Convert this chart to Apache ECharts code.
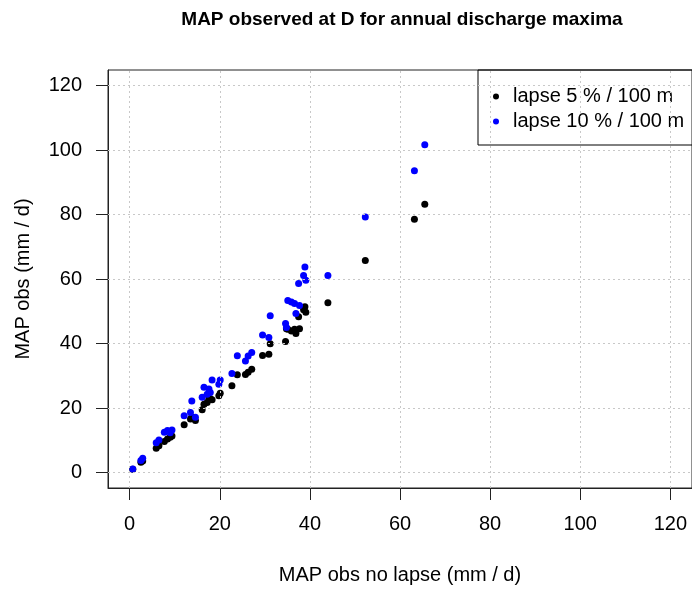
<!DOCTYPE html>
<html>
<head>
<meta charset="utf-8">
<script src="https://cdn.jsdelivr.net/npm/echarts@6/dist/echarts.min.js"></script>
<style>html,body{margin:0;padding:0;background:#fff}#c{width:692px;height:590px}</style>
</head>
<body>
<div id="c"></div>
<script>
// MAP obs without lapse (x), with 5 %/100 m lapse and 10 %/100 m lapse (y)
var xNoLapse = [0.7, 2.5, 2.9, 5.9, 6.5, 7.7, 8.4, 9.0, 9.4, 12.1, 13.5, 13.8, 14.6, 16.1, 16.5, 17.2, 17.6, 17.9, 18.3, 19.8, 20.1, 22.7, 23.9, 25.7, 26.3, 27.1, 29.5, 30.9, 31.2, 34.6, 34.8, 35.1, 35.9, 36.6, 36.9, 37.5, 37.7, 38.6, 38.9, 39.1, 44.0, 52.3, 63.2, 65.5];
var yLapse5 = [1.0, 3.2, 3.6, 7.5, 8.3, 9.6, 10.4, 10.9, 11.3, 14.8, 16.6, 17.2, 16.1, 19.5, 21.2, 21.7, 22.8, 22.9, 22.6, 23.8, 24.6, 26.9, 30.3, 30.4, 31.1, 32.0, 36.3, 36.7, 39.9, 40.6, 44.6, 44.4, 43.9, 44.4, 43.1, 48.3, 44.6, 50.5, 51.4, 49.7, 52.6, 65.7, 78.5, 83.2];
var yLapse10 = [1.1, 3.7, 4.4, 9.2, 10.1, 12.5, 13.0, 12.3, 13.2, 17.6, 18.6, 22.2, 17.1, 23.3, 26.4, 24.3, 25.9, 24.8, 28.7, 27.4, 28.7, 30.7, 36.2, 34.6, 36.1, 37.2, 42.6, 41.9, 48.6, 46.2, 45.0, 53.3, 52.9, 52.4, 49.3, 58.6, 51.8, 61.1, 63.7, 59.6, 61.1, 79.2, 93.6, 101.6];
var xTicks = [0, 20, 40, 60, 80, 100, 120];
var yTicks = [0, 20, 40, 60, 80, 100, 120];
var seriesNames = ['lapse 5 % / 100 m', 'lapse 10 % / 100 m'];

function pairs(xs, ys) { return xs.map(function (x, i) { return [x, ys[i]]; }); }

var FONT = '"Liberation Sans", Arial, sans-serif';
var gridLine = { color: '#c8c8c8', width: 1, type: [2, 3] };
var markData = xTicks.map(function (v) { return { xAxis: v }; })
  .concat(yTicks.map(function (v) { return { yAxis: v }; }));

var chart = echarts.init(document.getElementById('c'), null, { renderer: 'canvas' });
chart.setOption({
  animation: false,
  backgroundColor: '#fff',
  textStyle: { fontFamily: FONT },
  title: {
    text: 'MAP observed at D for annual discharge maxima',
    left: 402, top: 10, textAlign: 'center', padding: 0,
    textStyle: { fontFamily: FONT, fontSize: 19, fontWeight: 'bold', color: '#000' }
  },
  legend: {
    data: seriesNames,
    orient: 'vertical',
    left: 478, top: 70,
    padding: [14, 12, 11, 15],
    itemGap: 0,
    itemWidth: 6, itemHeight: 6,
    icon: 'circle',
    borderColor: '#000', borderWidth: 1,
    itemStyle: { opacity: 1 },
    textStyle: { fontFamily: FONT, fontSize: 20, color: '#000', lineHeight: 25, padding: [0, 0, 0, 9] }
  },
  grid: {
    left: 108, top: 70, width: 590, height: 420,
    show: true, borderColor: '#222', borderWidth: 1, backgroundColor: 'transparent'
  },
  xAxis: {
    type: 'value', min: -4.8, max: 124.8,
    name: 'MAP obs no lapse (mm / d)', nameLocation: 'middle', nameGap: 77,
    nameTextStyle: { fontFamily: FONT, fontSize: 20, color: '#000' },
    axisLine: { show: true, onZero: false, lineStyle: { color: '#222', width: 1 } },
    axisTick: { show: true, customValues: xTicks, length: 12, lineStyle: { color: '#222', width: 1 } },
    axisLabel: { customValues: xTicks, margin: 26, fontFamily: FONT, fontSize: 20, color: '#000' },
    splitLine: { show: false }
  },
  yAxis: {
    type: 'value', min: -4.8, max: 124.8,
    name: 'MAP obs (mm / d)', nameLocation: 'middle', nameGap: 75, nameRotate: 90,
    nameTextStyle: { fontFamily: FONT, fontSize: 20, color: '#000' },
    axisLine: { show: true, onZero: false, lineStyle: { color: '#222', width: 1 } },
    axisTick: { show: true, customValues: yTicks, length: 12, lineStyle: { color: '#222', width: 1 } },
    axisLabel: { customValues: yTicks, margin: 26, fontFamily: FONT, fontSize: 20, color: '#000' },
    splitLine: { show: false }
  },
  series: [
    {
      name: 'grid', type: 'scatter', data: [], z: 1, silent: true,
      markLine: { silent: true, symbol: 'none', label: { show: false }, lineStyle: gridLine, data: markData, animation: false }
    },
    {
      name: seriesNames[0], type: 'scatter', z: 3,
      symbol: 'circle', symbolSize: 7,
      itemStyle: { color: '#000', opacity: 1 },
      data: pairs(xNoLapse, yLapse5)
    },
    {
      name: seriesNames[1], type: 'scatter', z: 4,
      symbol: 'circle', symbolSize: 7,
      itemStyle: { color: '#0000ff', opacity: 1 },
      data: pairs(xNoLapse, yLapse10)
    }
  ]
});
</script>
</body>
</html>
